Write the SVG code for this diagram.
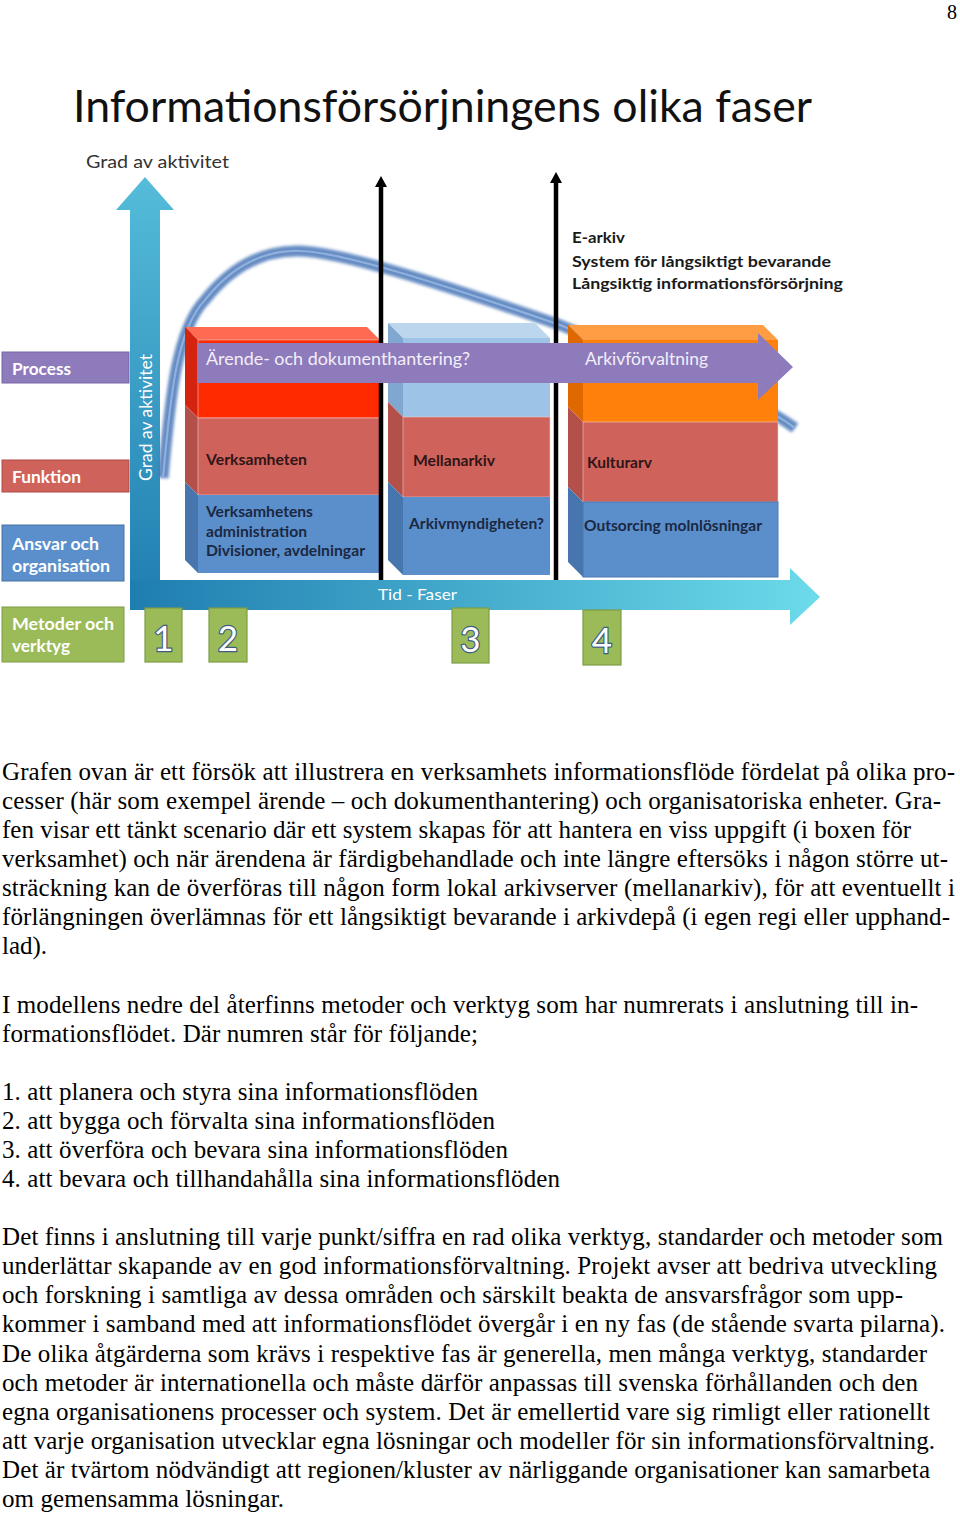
<svg xmlns="http://www.w3.org/2000/svg" width="960" height="1514" viewBox="0 0 960 1514">
<defs>
<linearGradient id="gV" x1="0" y1="0" x2="0" y2="1"><stop offset="0" stop-color="#55BCD9"/><stop offset="1" stop-color="#1F7DB0"/></linearGradient>
<linearGradient id="gH" x1="0" y1="0" x2="1" y2="0"><stop offset="0" stop-color="#1F7DB0"/><stop offset="1" stop-color="#6CDBEA"/></linearGradient>
<filter id="blur" x="-5%" y="-5%" width="110%" height="110%"><feGaussianBlur stdDeviation="1.5"/></filter>
<style>
.cal{font-family:Lato,"Open Sans","Liberation Sans",sans-serif}
.lbl{font-family:Lato,"Open Sans","Liberation Sans",sans-serif;font-weight:700;font-size:17px;fill:#fff}
.inb{font-family:Lato,"Open Sans","Liberation Sans",sans-serif;font-weight:700;font-size:15px}
.dr{fill:#2E1616}
.db{fill:#1B2842}
.ptxt{font-family:Lato,"Open Sans","Liberation Sans",sans-serif;font-size:17px;fill:#F4EEF9}
.num{font-family:Lato,"Open Sans","Liberation Sans",sans-serif;font-size:35px;font-weight:400;fill:#fff;stroke:#3E5C7E;stroke-width:2.4;paint-order:stroke;text-anchor:middle}
.nbox{fill:#9BBB59;stroke:#7E9C44;stroke-width:1.2}
.body{font-family:"Liberation Serif","Times New Roman",serif;font-size:25px;fill:#000}
.bk{stroke:#000;stroke-width:4.5}
.edge{stroke:#F2D0CC;stroke-width:0.8;stroke-opacity:0.7}
</style>
</defs>
<rect width="960" height="1514" fill="#fff"/>
<text x="947" y="19" font-family="Liberation Serif, serif" font-size="20">8</text>

<g id="title">
<text class="cal" x="73" y="122" font-size="44" fill="#111" textLength="739" lengthAdjust="spacingAndGlyphs">Informationsförsörjningens olika faser</text>
<text class="cal" x="86" y="168" font-size="18" fill="#333" textLength="143" lengthAdjust="spacingAndGlyphs">Grad av aktivitet</text>
</g>

<g id="axes">
<polygon points="130,610 130,210 116,210 145,177 174,210 160,210 160,610" fill="url(#gV)"/>
<polygon points="130,580 790,580 790,568 820,597 790,625 790,610 130,610" fill="url(#gH)"/>
<text class="cal" transform="translate(152,481) rotate(-90)" font-size="17" fill="#fff" textLength="127" lengthAdjust="spacingAndGlyphs">Grad av aktivitet</text>
<text class="cal" x="378" y="600" font-size="16" fill="#fff" textLength="79" lengthAdjust="spacingAndGlyphs">Tid - Faser</text>
</g>

<g id="curve" fill="none">
<path d="M163,478 C170,400 176,330 205,300 C235,262 268,250 300,251 C340,252 430,280 560,325 C650,362 740,388 795,428" stroke="#4A78B8" stroke-width="11" stroke-opacity="0.85" filter="url(#blur)"/>
<path d="M163,478 C170,400 176,330 205,300 C235,262 268,250 300,251 C340,252 430,280 560,325 C650,362 740,388 795,428" stroke="#8FB0DC" stroke-width="2.2"/>
</g>

<g id="box1">
<polygon points="185,327 367,327 380,340 198,340" fill="#FF6A52"/>
<polygon points="185,327 198,340 198,418 185,405" fill="#D42410"/>
<polygon points="185,405 198,418 198,495 185,482" fill="#B3504A"/>
<polygon points="185,482 198,495 198,573 185,560" fill="#4775AE"/>
<rect x="198" y="340" width="182" height="78" fill="#FF2A00" class="edge"/>
<rect x="198" y="418" width="182" height="77" fill="#D0625C" class="edge"/>
<rect x="198" y="495" width="182" height="78" fill="#5B8FCB"/>
<text class="inb dr" x="206" y="465" textLength="101" lengthAdjust="spacingAndGlyphs">Verksamheten</text>
<text class="inb db" x="206" y="517" textLength="107" lengthAdjust="spacingAndGlyphs">Verksamhetens</text>
<text class="inb db" x="206" y="537" textLength="101" lengthAdjust="spacingAndGlyphs">administration</text>
<text class="inb db" x="206" y="556" textLength="159" lengthAdjust="spacingAndGlyphs">Divisioner, avdelningar</text>
</g>

<g id="box2">
<polygon points="388,323 535,323 550,338 403,338" fill="#BCD6EE"/>
<polygon points="388,323 403,338 403,417 388,402" fill="#7FA7CF"/>
<polygon points="388,402 403,417 403,497 388,482" fill="#B3504A"/>
<polygon points="388,482 403,497 403,575 388,560" fill="#4775AE"/>
<rect x="403" y="338" width="147" height="79" fill="#9DC3E6"/>
<rect x="403" y="417" width="147" height="80" fill="#D0625C" class="edge"/>
<rect x="403" y="497" width="147" height="78" fill="#5B8FCB"/>
<text class="inb dr" x="413" y="466" textLength="82" lengthAdjust="spacingAndGlyphs">Mellanarkiv</text>
<text class="inb db" x="409" y="529" textLength="135" lengthAdjust="spacingAndGlyphs">Arkivmyndigheten?</text>
</g>

<g id="box3">
<polygon points="568,325 763,325 778,340 583,340" fill="#FF9D45"/>
<polygon points="568,325 583,340 583,422 568,407" fill="#E06800"/>
<polygon points="568,407 583,422 583,502 568,487" fill="#B3504A"/>
<polygon points="568,487 583,502 583,577 568,562" fill="#4775AE"/>
<rect x="583" y="340" width="195" height="82" fill="#FF800A"/>
<rect x="583" y="422" width="195" height="80" fill="#D0625C" class="edge"/>
<rect x="583" y="502" width="195" height="75" fill="#5B8FCB" stroke="#4A78B0" stroke-width="1"/>
<text class="inb dr" x="587" y="468" textLength="65" lengthAdjust="spacingAndGlyphs">Kulturarv</text>
<text class="inb db" x="584" y="531" textLength="178" lengthAdjust="spacingAndGlyphs">Outsorcing molnlösningar</text>
</g>

<g id="connectors">
<line class="bk" x1="381" y1="184" x2="381" y2="580"/>
<polygon points="375,187 381,176 387,187" fill="#000"/>
<line class="bk" x1="556" y1="180" x2="556" y2="580"/>
<polygon points="550,183 556,172 562,183" fill="#000"/>
</g>

<g id="process-arrow">
<polygon points="197,343 758,343 758,333 793,367 758,400 758,383 197,383" fill="#8D7BBB"/>
<text class="ptxt" x="206" y="365" textLength="264" lengthAdjust="spacingAndGlyphs">Ärende- och dokumenthantering?</text>
<text class="ptxt" x="585" y="365" textLength="123" lengthAdjust="spacingAndGlyphs">Arkivförvaltning</text>
</g>

<g id="earkiv">
<text class="inb" x="572" y="243" font-size="16" fill="#1A1A1A" textLength="53" lengthAdjust="spacingAndGlyphs">E-arkiv</text>
<text class="inb" x="572" y="267" font-size="16" fill="#1A1A1A" textLength="259" lengthAdjust="spacingAndGlyphs">System för långsiktigt bevarande</text>
<text class="inb" x="572" y="289" font-size="16" fill="#1A1A1A" textLength="271" lengthAdjust="spacingAndGlyphs">Långsiktig informationsförsörjning</text>
</g>

<g id="label-process">
<rect x="2" y="352" width="127" height="31" fill="#8D7BBB" stroke="#7866A8" stroke-width="1"/>
<text class="lbl" x="12" y="375" textLength="59" lengthAdjust="spacingAndGlyphs">Process</text>
</g>
<g id="label-funktion">
<rect x="2" y="460" width="127" height="32" fill="#D0625C" stroke="#B04A45" stroke-width="1"/>
<text class="lbl" x="12" y="483" textLength="69" lengthAdjust="spacingAndGlyphs">Funktion</text>
</g>
<g id="label-ansvar">
<rect x="2" y="525" width="122" height="56" fill="#5B8FCB" stroke="#46739F" stroke-width="1"/>
<text class="lbl" x="12" y="550" textLength="87" lengthAdjust="spacingAndGlyphs">Ansvar och</text>
<text class="lbl" x="12" y="572" textLength="98" lengthAdjust="spacingAndGlyphs">organisation</text>
</g>
<g id="label-metoder">
<rect x="2" y="607" width="122" height="55" fill="#9BBB59" stroke="#7E9C44" stroke-width="1"/>
<text class="lbl" x="12" y="630" textLength="102" lengthAdjust="spacingAndGlyphs">Metoder och</text>
<text class="lbl" x="12" y="652" textLength="58" lengthAdjust="spacingAndGlyphs">verktyg</text>
</g>

<g id="num1"><rect class="nbox" x="145" y="608" width="37" height="54"/><text class="num" x="163.5" y="651">1</text></g>
<g id="num2"><rect class="nbox" x="209" y="608" width="38" height="54"/><text class="num" x="228" y="651">2</text></g>
<g id="num3"><rect class="nbox" x="452" y="608" width="37" height="55"/><text class="num" x="470.5" y="652">3</text></g>
<g id="num4"><rect class="nbox" x="583" y="610" width="38" height="55"/><text class="num" x="602" y="653">4</text></g>

<g id="body-text" class="body">
<text x="2" y="780" textLength="953" lengthAdjust="spacing">Grafen ovan är ett försök att illustrera en verksamhets informationsflöde fördelat på olika pro-</text>
<text x="2" y="809" textLength="939" lengthAdjust="spacing">cesser (här som exempel ärende – och dokumenthantering) och organisatoriska enheter. Gra-</text>
<text x="2" y="838" textLength="909" lengthAdjust="spacing">fen visar ett tänkt scenario där ett system skapas för att hantera en viss uppgift (i boxen för</text>
<text x="2" y="867" textLength="946" lengthAdjust="spacing">verksamhet) och när ärendena är färdigbehandlade och inte längre eftersöks i någon större ut-</text>
<text x="2" y="896" textLength="953" lengthAdjust="spacing">sträckning kan de överföras till någon form lokal arkivserver (mellanarkiv), för att eventuellt i</text>
<text x="2" y="925" textLength="948" lengthAdjust="spacing">förlängningen överlämnas för ett långsiktigt bevarande i arkivdepå (i egen regi eller upphand-</text>
<text x="2" y="954">lad).</text>
<text x="2" y="1013" textLength="916" lengthAdjust="spacing">I modellens nedre del återfinns metoder och verktyg som har numrerats i anslutning till in-</text>
<text x="2" y="1042" textLength="476" lengthAdjust="spacing">formationsflödet. Där numren står för följande;</text>
<text x="2" y="1100" textLength="476" lengthAdjust="spacing">1. att planera och styra sina informationsflöden</text>
<text x="2" y="1129" textLength="493" lengthAdjust="spacing">2. att bygga och förvalta sina informationsflöden</text>
<text x="2" y="1158" textLength="506" lengthAdjust="spacing">3. att överföra och bevara sina informationsflöden</text>
<text x="2" y="1187" textLength="558" lengthAdjust="spacing">4. att bevara och tillhandahålla sina informationsflöden</text>
<text x="2" y="1245" textLength="941" lengthAdjust="spacing">Det finns i anslutning till varje punkt/siffra en rad olika verktyg, standarder och metoder som</text>
<text x="2" y="1274" textLength="935" lengthAdjust="spacing">underlättar skapande av en god informationsförvaltning. Projekt avser att bedriva utveckling</text>
<text x="2" y="1303" textLength="901" lengthAdjust="spacing">och forskning i samtliga av dessa områden och särskilt beakta de ansvarsfrågor som upp-</text>
<text x="2" y="1332" textLength="943" lengthAdjust="spacing">kommer i samband med att informationsflödet övergår i en ny fas (de stående svarta pilarna).</text>
<text x="2" y="1362" textLength="925" lengthAdjust="spacing">De olika åtgärderna som krävs i respektive fas är generella, men många verktyg, standarder</text>
<text x="2" y="1391" textLength="916" lengthAdjust="spacing">och metoder är internationella och måste därför anpassas till svenska förhållanden och den</text>
<text x="2" y="1420" textLength="928" lengthAdjust="spacing">egna organisationens processer och system. Det är emellertid vare sig rimligt eller rationellt</text>
<text x="2" y="1449" textLength="933" lengthAdjust="spacing">att varje organisation utvecklar egna lösningar och modeller för sin informationsförvaltning.</text>
<text x="2" y="1478" textLength="928" lengthAdjust="spacing">Det är tvärtom nödvändigt att regionen/kluster av närliggande organisationer kan samarbeta</text>
<text x="2" y="1507" textLength="282" lengthAdjust="spacing">om gemensamma lösningar.</text>
</g>
</svg>
